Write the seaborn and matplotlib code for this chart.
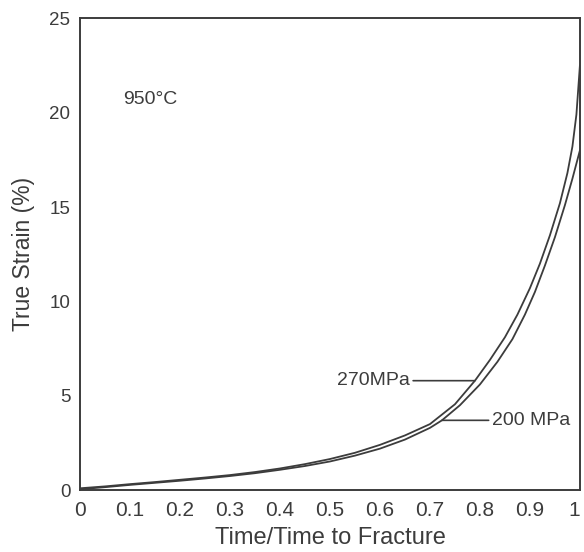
import numpy as np
import pandas as pd
import seaborn as sns
import matplotlib.pyplot as plt
from matplotlib.ticker import FuncFormatter

# normalised time (t / t_fracture) and true strain (%)
t_270 = [0, 0.05, 0.1, 0.15, 0.2, 0.25, 0.3, 0.35, 0.4, 0.45, 0.5, 0.55, 0.6,
         0.65, 0.7, 0.75, 0.79, 0.82, 0.85, 0.875, 0.9, 0.92, 0.94, 0.96,
         0.975, 0.985, 0.993, 1.0]
strain_270 = [0.1, 0.2, 0.32, 0.43, 0.55, 0.67, 0.8, 0.96, 1.15, 1.38, 1.65,
              1.98, 2.4, 2.9, 3.5, 4.55, 5.8, 6.9, 8.1, 9.3, 10.7, 12.0, 13.5,
              15.2, 16.8, 18.2, 19.9, 22.5]

t_200 = [0, 0.05, 0.1, 0.15, 0.2, 0.25, 0.3, 0.35, 0.4, 0.45, 0.5, 0.55, 0.6,
         0.65, 0.7, 0.724, 0.76, 0.8, 0.835, 0.865, 0.89, 0.91, 0.93, 0.95,
         0.97, 0.985, 0.995, 1.0]
strain_200 = [0.05, 0.16, 0.28, 0.39, 0.5, 0.62, 0.75, 0.9, 1.08, 1.28, 1.52,
              1.83, 2.2, 2.68, 3.3, 3.7, 4.5, 5.6, 6.8, 8.0, 9.3, 10.5, 11.9,
              13.4, 15.1, 16.5, 17.5, 18.0]

x_ticks = [0, 0.1, 0.2, 0.3, 0.4, 0.5, 0.6, 0.7, 0.8, 0.9, 1.0]
y_ticks = [0, 5, 10, 15, 20, 25]

df = pd.concat([
    pd.DataFrame({"t": t_270, "strain": strain_270, "stress": "270MPa"}),
    pd.DataFrame({"t": t_200, "strain": strain_200, "stress": "200 MPa"}),
])

sns.set_style("white")
plt.rcParams["font.family"] = ["Liberation Sans", "DejaVu Sans"]

ink = "#3c3c3c"
fig = plt.figure(figsize=(5.84, 5.52), dpi=100)
ax = fig.add_axes([0.137, 0.112, 0.856, 0.855])

sns.lineplot(data=df, x="t", y="strain", units="stress", estimator=None,
             color=ink, linewidth=1.3, sort=False, ax=ax)

ax.set_xlim(0, 1)
ax.set_ylim(0, 25)
ax.set_xticks(x_ticks)
ax.set_yticks(y_ticks)
ax.xaxis.set_major_formatter(FuncFormatter(lambda v, p: "%g" % v))
ax.tick_params(axis="x", direction="in", length=6, width=1.2, color=ink,
               labelsize=15, labelcolor=ink, pad=8)
ax.tick_params(axis="y", direction="out", length=5, width=1.2, color=ink,
               labelsize=13.5, labelcolor=ink, pad=2)
# last x label sits against the right edge of the figure
ax.get_xticklabels()[-1].set_horizontalalignment("right")
for s in ax.spines.values():
    s.set_color(ink)
    s.set_linewidth(1.4)

ax.set_xlabel("Time/Time to Fracture", fontsize=17, color=ink, labelpad=5)
ax.set_ylabel("True Strain (%)", fontsize=16.5, color=ink, labelpad=10)

ax.text(0.086, 20.7, "950\u00b0C", fontsize=14, color=ink, va="center")

# labels with leader lines to the curves
p270 = 0.79
y270 = np.interp(p270, t_270, strain_270)
ax.annotate("270MPa", xy=(p270, y270), xytext=(0.514, y270),
            fontsize=14, color=ink, va="center", ha="left",
            arrowprops=dict(arrowstyle="-", color=ink, lw=1.2,
                            shrinkA=0, shrinkB=0))
p200 = 0.724
y200 = np.interp(p200, t_200, strain_200)
ax.annotate("200 MPa", xy=(p200, y200), xytext=(0.824, y200),
            fontsize=14, color=ink, va="center", ha="left",
            arrowprops=dict(arrowstyle="-", color=ink, lw=1.2,
                            shrinkA=0, shrinkB=0))

fig.savefig("out.png", dpi=100)
